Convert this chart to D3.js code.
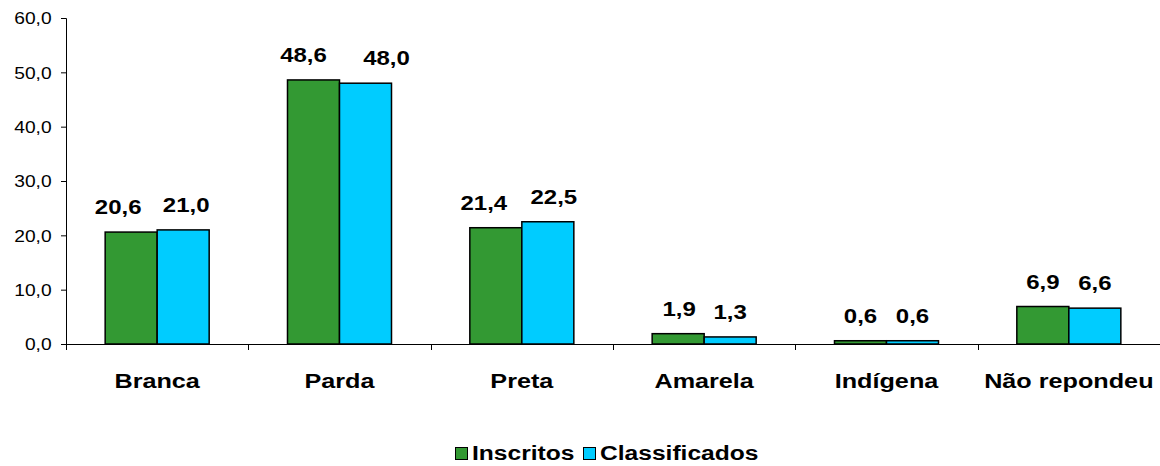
<!DOCTYPE html>
<html><head><meta charset="utf-8">
<script src="https://cdn.jsdelivr.net/npm/d3@7"></script>
<style>
body{margin:0;background:#fff;}
svg{display:block;font-family:"Liberation Sans",Arial,sans-serif;}
</style></head>
<body><svg id="chart" width="1160" height="466"></svg>
<script>
const categories = ["Branca","Parda","Preta","Amarela","Indígena","Não repondeu"];
const inscritos = [20.6,48.6,21.4,1.9,0.6,6.9];
const classificados = [21.0,48.0,22.5,1.3,0.6,6.6];
const seriesNames = ["Inscritos","Classificados"];
const seriesColors = ["#339933","#00CCFF"];
const yTicks = [0,10,20,30,40,50,60];

(function(){
const svg = d3.select("#chart");
const plotLeft = 66, plotRight = 1160, plotTop = 18, plotBottom = 344;
const SX = 1.2; // wide text rendering
const fmt = v => v.toFixed(1).replace(".", ",");
// horizontal nudges for the value labels, per category [inscritos, classificados]
const labelNudge = [[-13,3],[-10,21],[-12,6],[1,0],[0,0],[0,0]];

function wideText(parent, x, y, str, size, bold, anchor){
  return parent.append("text")
    .attr("transform", `translate(${x},${y}) scale(${SX},1)`)
    .attr("text-anchor", anchor || "middle")
    .attr("font-size", size)
    .attr("font-weight", bold ? "bold" : "normal")
    .attr("fill", "#000")
    .text(str);
}

const x = d3.scaleBand().domain(categories).range([plotLeft, plotRight]).paddingInner(0).paddingOuter(0);
const x1 = d3.scaleBand().domain(seriesNames).range([0, x.bandwidth()]).paddingInner(0).paddingOuter(0.753);
const y = d3.scaleLinear().domain([0,60]).range([plotBottom, plotTop]);

// y axis
const yAxis = svg.append("g").attr("transform",`translate(${plotLeft},0)`)
  .call(d3.axisLeft(y).tickValues(yTicks).tickFormat(fmt).tickSize(5).tickPadding(4));
yAxis.select(".domain").attr("stroke","#000");
yAxis.selectAll(".tick line").attr("stroke","#000");
yAxis.selectAll(".tick text")
  .attr("font-size",16).attr("fill","#000")
  .attr("x", -12).attr("dy","0.36em")
  .attr("transform", `scale(${SX},1)`);

// x axis with ticks between categories
const xg = svg.append("g");
xg.append("line").attr("x1",plotLeft).attr("x2",plotRight).attr("y1",plotBottom+0.5).attr("y2",plotBottom+0.5).attr("stroke","#000");
categories.forEach((c,i)=>{
  const xx = Math.round(x(c))+0.5;
  xg.append("line").attr("x1",xx).attr("x2",xx).attr("y1",plotBottom).attr("y2",plotBottom+6).attr("stroke","#000");
  wideText(xg, x(c)+x.bandwidth()/2, 388, c, 21, true);
});

const data = categories.map((c,i)=>({cat:c, i, vals:[inscritos[i], classificados[i]]}));
const groups = svg.append("g").selectAll("g").data(data).join("g")
  .attr("transform", d=>`translate(${x(d.cat)},0)`);

groups.selectAll("rect").data(d=>d.vals.map((v,j)=>({v, s:seriesNames[j], j})))
  .join("rect")
  .attr("x", d=>x1(d.s))
  .attr("width", x1.bandwidth())
  .attr("y", d=>y(d.v))
  .attr("height", d=>y(0)-y(d.v))
  .attr("fill", d=>seriesColors[d.j])
  .attr("stroke","#000").attr("stroke-width",1.5);

groups.each(function(d){
  const g = d3.select(this);
  d.vals.forEach((v,j)=>{
    const cx = x1(seriesNames[j]) + x1.bandwidth()/2 + labelNudge[d.i][j];
    wideText(g, cx, y(v)-18, fmt(v), 20, true);
  });
});

// legend
const legend = svg.append("g");
const legendItems = [{n:seriesNames[0], c:seriesColors[0], x:455},{n:seriesNames[1], c:seriesColors[1], x:583}];
legendItems.forEach(it=>{
  legend.append("rect").attr("x",it.x+0.5).attr("y",447.5).attr("width",12).attr("height",12)
    .attr("fill",it.c).attr("stroke","#000").attr("stroke-width",1);
  wideText(legend, it.x+17, 460, it.n, 20.5, true, "start");
});
})();
</script></body></html>
